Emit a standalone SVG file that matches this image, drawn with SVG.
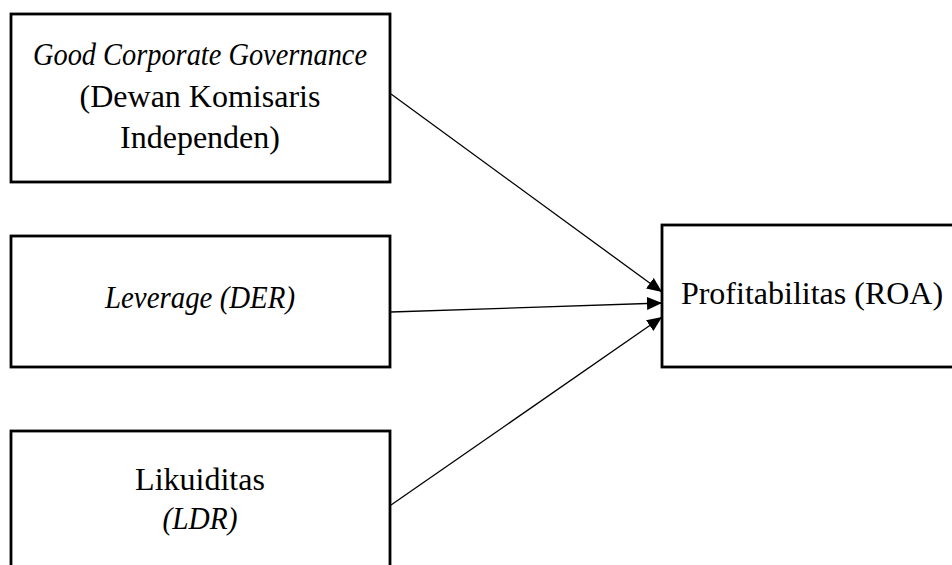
<svg xmlns="http://www.w3.org/2000/svg" width="952" height="565" viewBox="0 0 952 565">
<style>
.box{fill:#fff;stroke:#000;stroke-width:2.8}
.t{font-family:"Liberation Serif","Times New Roman",serif;font-size:32px;fill:#000;text-anchor:middle}
.i{font-style:italic}
.c{stroke:#000;stroke-width:1.3;fill:none;marker-end:url(#ah)}
</style>
<defs>
<marker id="ah" markerUnits="userSpaceOnUse" markerWidth="16" markerHeight="14" refX="15" refY="6.5" orient="auto">
<path d="M0,0 L15,6.5 L0,13 z" fill="#000"/>
</marker>
</defs>
<rect width="952" height="565" fill="#fff"/>
<g id="connectors">
<line class="c" x1="391" y1="94" x2="662" y2="292"/>
<line class="c" x1="391" y1="312" x2="662" y2="303"/>
<line class="c" x1="391" y1="505" x2="662" y2="317"/>
</g>
<g id="gcg">
<rect class="box" x="11" y="14" width="379" height="168"/>
<text class="t i" x="200" y="65" textLength="334" lengthAdjust="spacingAndGlyphs">Good Corporate Governance</text>
<text class="t" x="200" y="107">(Dewan Komisaris</text>
<text class="t" x="200" y="148">Independen)</text>
</g>
<g id="leverage">
<rect class="box" x="11" y="236" width="379" height="131"/>
<text class="t i" x="200" y="308" textLength="190" lengthAdjust="spacingAndGlyphs">Leverage (DER)</text>
</g>
<g id="likuiditas">
<rect class="box" x="11" y="431" width="379" height="200"/>
<text class="t" x="200" y="490">Likuiditas</text>
<text class="t i" x="200" y="529" textLength="75" lengthAdjust="spacingAndGlyphs">(LDR)</text>
</g>
<g id="profitabilitas">
<rect class="box" x="662" y="225" width="320" height="142"/>
<text class="t" x="812" y="304">Profitabilitas (ROA)</text>
</g>
</svg>
